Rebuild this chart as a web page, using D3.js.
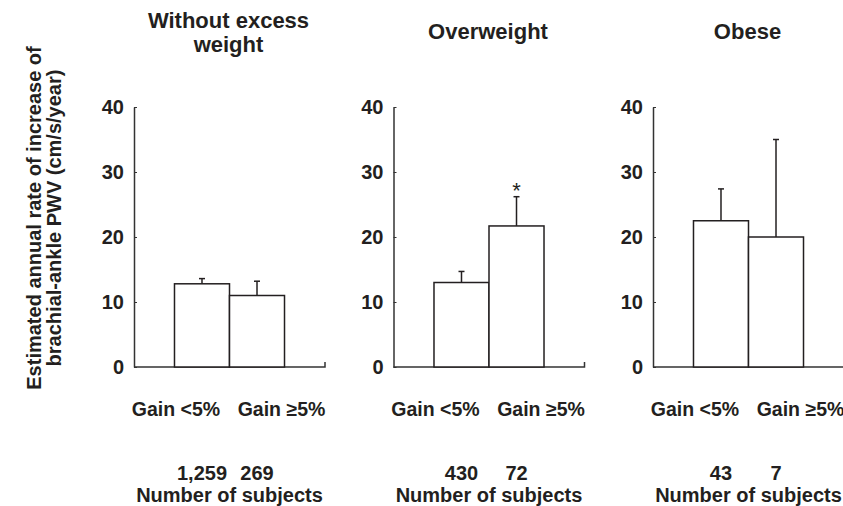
<!DOCTYPE html>
<html>
<head>
<meta charset="utf-8">
<script src="https://cdn.jsdelivr.net/npm/d3@7"></script>
<style>
  body { margin: 0; background: #fff; }
  svg text { font-family: "Liberation Sans", Arial, Helvetica, sans-serif; fill: #231f20; }
</style>
</head>
<body>
<div id="chart"></div>
<script>
// Data
const panels = ["Without excess weight", "Overweight", "Obese"];
const titleLines = [["Without excess", "weight"], ["Overweight"], ["Obese"]];
const groups = ["Gain <5%", "Gain \u22655%"];
const means = [[12.8, 11.0], [13.0, 21.7], [22.5, 20.0]];
const errors = [[0.8, 2.2], [1.7, 4.5], [4.9, 15.0]];
const subjects = [["1,259", "269"], ["430", "72"], ["43", "7"]];
const significant = [[false, false], [false, true], [false, false]];
const yTicks = [0, 10, 20, 30, 40];

const width = 843, height = 506;
const ink = "#231f20";

const svg = d3.select("#chart").append("svg")
  .attr("width", width)
  .attr("height", height);

// Scales
const panelX = d3.scaleBand()
  .domain(panels)
  .range([134, 134 + 3 * 259.5])
  .paddingInner(0);

const y = d3.scaleLinear()
  .domain([0, 40])
  .range([367, 107]);

const x = d3.scaleBand()
  .domain(groups)
  .range([0, 191])
  .paddingInner(0)
  .paddingOuter(0.736);

// group labels sit spread a little outward from the bar centres
const labelShift = [-26, 24.5];

panels.forEach((p, i) => {
  const g = svg.append("g")
    .attr("transform", `translate(${panelX(p)},0)`);

  // y axis
  const yAxis = g.append("g")
    .call(d3.axisLeft(y).tickValues(yTicks).tickSize(-3).tickSizeOuter(0).tickPadding(10));
  yAxis.select(".domain").attr("stroke", "#333").attr("stroke-width", 1.5);
  yAxis.selectAll(".tick line").attr("stroke", "#333").attr("stroke-width", 1);
  yAxis.selectAll(".tick text")
    .style("font-size", "20px")
    .style("font-weight", "bold")
    .attr("fill", ink);

  // baseline with small end tick
  g.append("path")
    .attr("d", `M0,${y(0)}H${x.range()[1]}V${y(0) - 5}`)
    .attr("fill", "none")
    .attr("stroke", "#333")
    .attr("stroke-width", 1.5);

  const rows = groups.map((k, j) => ({
    key: k, mean: means[i][j], err: errors[i][j],
    n: subjects[i][j], sig: significant[i][j], shift: labelShift[j]
  }));

  // error bars (drawn first so bar outline sits over them)
  const eb = g.append("g").selectAll("g")
    .data(rows)
    .join("g")
    .attr("stroke", ink)
    .attr("stroke-width", 1.5);

  eb.append("line")
    .attr("x1", d => x(d.key) + x.bandwidth() / 2)
    .attr("x2", d => x(d.key) + x.bandwidth() / 2)
    .attr("y1", d => y(d.mean))
    .attr("y2", d => y(d.mean + d.err));

  eb.append("line")
    .attr("x1", d => x(d.key) + x.bandwidth() / 2 - 3)
    .attr("x2", d => x(d.key) + x.bandwidth() / 2 + 3)
    .attr("y1", d => y(d.mean + d.err))
    .attr("y2", d => y(d.mean + d.err));

  // bars
  g.append("g").selectAll("rect")
    .data(rows)
    .join("rect")
    .attr("x", d => x(d.key))
    .attr("y", d => y(d.mean))
    .attr("width", x.bandwidth())
    .attr("height", d => y(0) - y(d.mean))
    .attr("fill", "#fff")
    .attr("stroke", ink)
    .attr("stroke-width", 1.5);

  // significance mark
  g.append("g").selectAll("text")
    .data(rows.filter(d => d.sig))
    .join("text")
    .attr("x", d => x(d.key) + x.bandwidth() / 2)
    .attr("y", d => y(d.mean + d.err) + 1)
    .attr("text-anchor", "middle")
    .style("font-size", "22px")
    .text("*");

  // group labels
  g.append("g").selectAll("text")
    .data(rows)
    .join("text")
    .attr("x", d => x(d.key) + x.bandwidth() / 2 + d.shift)
    .attr("y", 416)
    .attr("text-anchor", "middle")
    .style("font-size", "19.5px")
    .style("font-weight", "bold")
    .text(d => d.key);

  // subject counts
  g.append("g").selectAll("text")
    .data(rows)
    .join("text")
    .attr("x", d => x(d.key) + x.bandwidth() / 2)
    .attr("y", 480)
    .attr("text-anchor", "middle")
    .style("font-size", "20px")
    .style("font-weight", "bold")
    .text(d => d.n);

  g.append("text")
    .attr("x", x.range()[1] / 2)
    .attr("y", 502)
    .attr("text-anchor", "middle")
    .style("font-size", "20px")
    .style("font-weight", "bold")
    .text("Number of subjects");

  // panel title
  const lines = titleLines[i];
  const t0 = lines.length === 1 ? 39 : 28;
  g.append("text")
    .attr("text-anchor", "middle")
    .style("font-size", "22px")
    .style("font-weight", "bold")
    .selectAll("tspan")
    .data(lines)
    .join("tspan")
    .attr("x", x.range()[1] / 2 - 1)
    .attr("y", (d, k) => t0 + k * 24)
    .text(d => d);
});

// y axis title
const yTitle = ["Estimated annual rate of increase of", "brachial-ankle PWV (cm/s/year)"];
svg.append("text")
  .attr("transform", "translate(0,218) rotate(-90)")
  .attr("text-anchor", "middle")
  .style("font-size", "20px")
  .style("font-weight", "bold")
  .selectAll("tspan")
  .data(yTitle)
  .join("tspan")
  .attr("x", 0)
  .attr("y", (d, k) => 41 + k * 20)
  .text(d => d);
</script>
</body>
</html>
